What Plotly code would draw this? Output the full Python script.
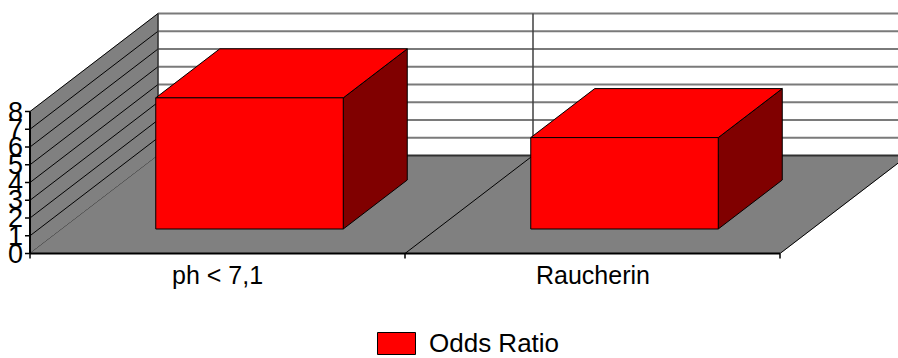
import plotly.graph_objects as go

# Data
categories = ["ph < 7,1", "Raucherin"]
odds_ratio = [7.39, 5.15]
series_name = "Odds Ratio"
y_ticks = [0, 1, 2, 3, 4, 5, 6, 7, 8]

# Oblique 3D projection: full floor depth shifts x by DX category units and y by DY value units
DX = 128 / 375
DY = 98 / 17.75
Y_MAX = y_ticks[-1]
N = len(categories)
BAR_W = 0.5          # bar width as fraction of category slot
DEPTH0, DEPTH1 = 0.25, 0.75   # bar depth span within the floor

RED = "#FF0000"
DARK_RED = "#800000"
GRAY = "#808080"
FONT = "Liberation Sans, Arial"


def proj(u, v, w):
    """Project category position u, value v, depth fraction w onto the 2D plane."""
    return u + w * DX, v + w * DY


fig = go.Figure()


def poly(points, fill, line_color="black", line_width=1):
    xs, ys = zip(*[proj(*p) for p in points])
    xs = list(xs) + [xs[0]]
    ys = list(ys) + [ys[0]]
    fig.add_trace(go.Scatter(
        x=xs, y=ys, mode="lines", fill="toself", fillcolor=fill,
        line=dict(color=line_color, width=line_width),
        hoverinfo="skip", showlegend=False))


def seg(p0, p1, color="black", width=1):
    x0, y0 = proj(*p0)
    x1, y1 = proj(*p1)
    fig.add_trace(go.Scatter(
        x=[x0, x1], y=[y0, y1], mode="lines",
        line=dict(color=color, width=width),
        hoverinfo="skip", showlegend=False))


# Back wall gridlines
for k in y_ticks[1:]:
    seg((0, k, 1), (N, k, 1), color="#7a7a7a", width=2)
# Category divider on the back wall
for i in range(1, N):
    seg((i, 0, 1), (i, Y_MAX, 1), color="#404040", width=1.5)

# Left wall
poly([(0, 0, 0), (0, Y_MAX, 0), (0, Y_MAX, 1), (0, 0, 1)], GRAY, line_color=GRAY, line_width=0.5)
for k in y_ticks:
    seg((0, k, 0), (0, k, 1), color="black", width=1)
seg((0, 0, 1), (0, Y_MAX, 1), color="#303030", width=1.5)

# Floor
poly([(0, 0, 0), (N, 0, 0), (N, 0, 1), (0, 0, 1)], GRAY, line_color=GRAY, line_width=0.5)
seg((0, 0, 1), (N, 0, 1), color="#303030", width=2)
for i in range(1, N + 1):
    seg((i, 0, 0), (i, 0, 1), color="black", width=1)

# Bars: side, top, front
for i, val in enumerate(odds_ratio):
    u0 = i + (1 - BAR_W) / 2
    u1 = u0 + BAR_W
    poly([(u1, 0, DEPTH0), (u1, 0, DEPTH1), (u1, val, DEPTH1), (u1, val, DEPTH0)], DARK_RED)
    poly([(u0, val, DEPTH0), (u1, val, DEPTH0), (u1, val, DEPTH1), (u0, val, DEPTH1)], RED)
    poly([(u0, 0, DEPTH0), (u1, 0, DEPTH0), (u1, val, DEPTH0), (u0, val, DEPTH0)], RED)

# Axes lines and ticks
TICK_U = 5 / 375
TICK_V = 5 / 17.75
seg((0, 0, 0), (0, Y_MAX, 0), color="black", width=2)
seg((0, 0, 0), (N, 0, 0), color="black", width=2)
for k in y_ticks:
    seg((-TICK_U, k, 0), (0, k, 0), color="black", width=1.5)
for i in range(N + 1):
    seg((i, 0, 0), (i, -TICK_V, 0), color="black", width=1.5)

annotations = []
for k in y_ticks:
    annotations.append(dict(
        x=-0.014, y=k, xref="x", yref="y", text=str(k), showarrow=False,
        xanchor="right", yanchor="middle",
        font=dict(family=FONT, size=27, color="black")))
for i, cat in enumerate(categories):
    annotations.append(dict(
        x=i + 0.5, y=-1.22, xref="x", yref="y", text=cat, showarrow=False,
        xanchor="center", yanchor="middle",
        font=dict(family=FONT, size=25, color="black")))

# Legend
W, H = 898, 358
annotations.append(dict(
    x=427 / W, y=1 - 343 / H, xref="paper", yref="paper", text=series_name,
    showarrow=False, xanchor="left", yanchor="middle",
    font=dict(family=FONT, size=26, color="black")))
shapes = [dict(
    type="rect", xref="paper", yref="paper",
    x0=377.5 / W, x1=415.5 / W, y0=1 - 354.5 / H, y1=1 - 332.5 / H,
    fillcolor=RED, line=dict(color="black", width=1))]

fig.update_layout(
    width=W, height=H,
    margin=dict(l=0, r=0, t=0, b=0, pad=0),
    paper_bgcolor="white", plot_bgcolor="white",
    xaxis=dict(visible=False, range=[-30 / 375, 868 / 375], fixedrange=True),
    yaxis=dict(visible=False, range=[-104.5 / 17.75, 253.5 / 17.75], fixedrange=True),
    annotations=annotations, shapes=shapes,
    showlegend=False,
)

fig.write_html("out.html")
